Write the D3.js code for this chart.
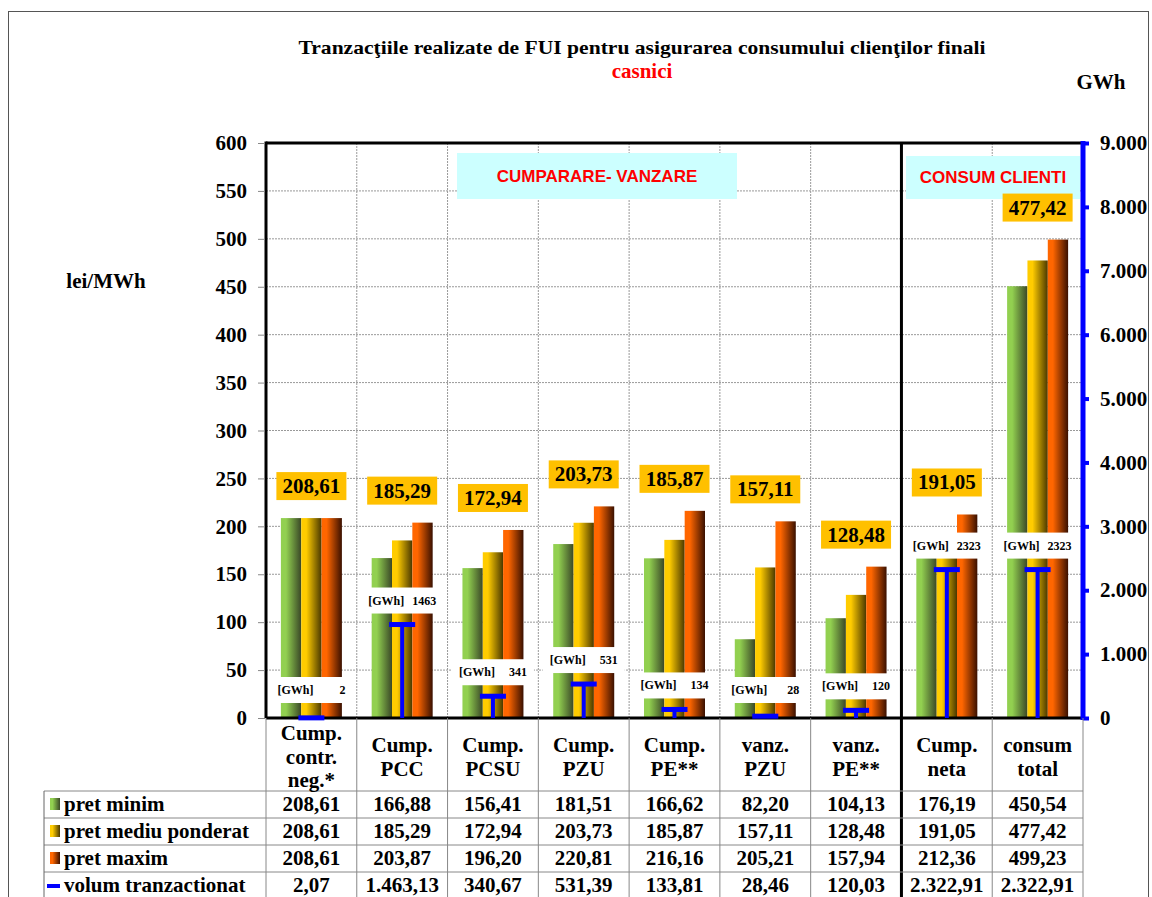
<!DOCTYPE html>
<html>
<head>
<meta charset="utf-8">
<script src="https://cdn.jsdelivr.net/npm/d3@7"></script>
<style>
  body { margin: 0; background: #fff; }
  text { font-family: "Liberation Serif", "Times New Roman", serif; font-weight: bold; }
</style>
</head>
<body>
<div id="chart"></div>
<script>
// data
const categories = [
    ["Cump.", "contr.", "neg.*"],
    ["Cump.", "PCC"],
    ["Cump.", "PCSU"],
    ["Cump.", "PZU"],
    ["Cump.", "PE**"],
    ["vanz.", "PZU"],
    ["vanz.", "PE**"],
    ["Cump.", "neta"],
    ["consum", "total"]
];
const pretMinim = [208.61, 166.88, 156.41, 181.51, 166.62, 82.20, 104.13, 176.19, 450.54];
const pretMediu = [208.61, 185.29, 172.94, 203.73, 185.87, 157.11, 128.48, 191.05, 477.42];
const pretMaxim = [208.61, 203.87, 196.20, 220.81, 216.16, 205.21, 157.94, 212.36, 499.23];
const volum = [2.07, 1463.13, 340.67, 531.39, 133.81, 28.46, 120.03, 2322.91, 2322.91];
const leftTicks = [0, 50, 100, 150, 200, 250, 300, 350, 400, 450, 500, 550, 600];
const rightTicks = [0, 1000, 2000, 3000, 4000, 5000, 6000, 7000, 8000, 9000];
const seriesNames = ["pret minim", "pret mediu ponderat", "pret maxim", "volum tranzactionat"];

function drawChart() {
    const W = 1152, H = 897;
    const plot = {left: 266, right: 1083, top: 143, bottom: 718};
    const fs = "21px";
    const serif = "'Liberation Serif', 'Times New Roman', serif";

    const ro = d3.formatLocale({decimal: ",", thousands: ".", grouping: [3], currency: ["", ""]});
    const fmt2 = ro.format(",.2f");
    const fmtK = ro.format(",.0f");
    const fmtInt = d3.format(".0f");

    const svg = d3.select("#chart")
        .append("svg")
        .attr("width", W).attr("height", H);

    const defs = svg.append("defs");
    const grads = [
        {id: "gMin", c0: "#92d050", c1: "#3a4727"},
        {id: "gMed", c0: "#ffcc00", c1: "#4a3800"},
        {id: "gMax", c0: "#ff6600", c1: "#3a1000"}
    ];
    grads.forEach(g => {
        const lg = defs.append("linearGradient").attr("id", g.id)
            .attr("x1", "0%").attr("x2", "100%").attr("y1", "0%").attr("y2", "0%");
        lg.append("stop").attr("offset", "0%").attr("stop-color", g.c0);
        lg.append("stop").attr("offset", "25%").attr("stop-color", g.c0);
        lg.append("stop").attr("offset", "100%").attr("stop-color", g.c1);
    });

    svg.append("rect").attr("width", W).attr("height", H).attr("fill", "#fff");
    // outer frame
    svg.append("rect")
        .attr("x", 8.5).attr("y", 11.5).attr("width", 1140).attr("height", 900)
        .attr("fill", "none").attr("stroke", "#555").attr("stroke-width", 1);

    const x = d3.scaleBand()
        .domain(d3.range(categories.length))
        .range([plot.left, plot.right]);
    const groupW = 61;
    const xSub = d3.scaleBand()
        .domain([0, 1, 2])
        .range([(x.bandwidth() - groupW) / 2, (x.bandwidth() + groupW) / 2]);

    const y = d3.scaleLinear().domain([0, 600]).range([plot.bottom, plot.top]);
    const y2 = d3.scaleLinear().domain([0, 9000]).range([plot.bottom, plot.top]);

    // grid
    svg.append("g")
        .selectAll("line")
        .data(leftTicks.slice(1, -1))
        .join("line")
        .attr("x1", plot.left).attr("x2", plot.right)
        .attr("y1", d => y(d)).attr("y2", d => y(d))
        .attr("stroke", "#999").attr("stroke-width", 1).attr("stroke-dasharray", "2,1");
    svg.append("g")
        .selectAll("line")
        .data(d3.range(1, categories.length))
        .join("line")
        .attr("x1", d => x(d)).attr("x2", d => x(d))
        .attr("y1", plot.top).attr("y2", plot.bottom)
        .attr("stroke", "#999").attr("stroke-width", 1).attr("stroke-dasharray", "2,1");

    // annotation boxes
    svg.append("rect").attr("x", 457).attr("y", 153).attr("width", 280).attr("height", 46).attr("fill", "#ccffff");
    svg.append("text").attr("x", 597).attr("y", 182).attr("text-anchor", "middle")
        .style("font-family", "'Liberation Sans', Arial, sans-serif").style("font-size", "17px")
        .attr("fill", "#ff0000").text("CUMPARARE- VANZARE");
    svg.append("rect").attr("x", 906).attr("y", 156).attr("width", 174).attr("height", 43).attr("fill", "#ccffff");
    svg.append("text").attr("x", 993).attr("y", 183).attr("text-anchor", "middle")
        .style("font-family", "'Liberation Sans', Arial, sans-serif").style("font-size", "17px")
        .attr("fill", "#ff0000").text("CONSUM CLIENTI");

    // bars
    const rows = categories.map((c, i) => ({i, vals: [pretMinim[i], pretMediu[i], pretMaxim[i]]}));
    const fills = ["url(#gMin)", "url(#gMed)", "url(#gMax)"];
    const grp = svg.append("g").selectAll("g")
        .data(rows)
        .join("g")
        .attr("transform", d => `translate(${x(d.i)},0)`);
    grp.selectAll("rect")
        .data(d => d.vals)
        .join("rect")
        .attr("x", (d, k) => xSub(k))
        .attr("width", xSub.bandwidth())
        .attr("y", d => y(d))
        .attr("height", d => y(0) - y(d))
        .attr("fill", (d, k) => fills[k]);

    // plot frame
    svg.append("line").attr("x1", plot.left).attr("x2", plot.right).attr("y1", plot.top).attr("y2", plot.top)
        .attr("stroke", "#000").attr("stroke-width", 3);
    svg.append("line").attr("x1", plot.left).attr("x2", plot.left).attr("y1", plot.top - 1.5).attr("y2", plot.bottom)
        .attr("stroke", "#000").attr("stroke-width", 3);
    svg.append("line").attr("x1", plot.left).attr("x2", plot.right).attr("y1", plot.bottom).attr("y2", plot.bottom)
        .attr("stroke", "#000").attr("stroke-width", 3);
    // separator between groups
    svg.append("line").attr("x1", x(7)).attr("x2", x(7)).attr("y1", plot.top).attr("y2", H)
        .attr("stroke", "#000").attr("stroke-width", 3);

    // left axis
    const ax = svg.append("g")
        .attr("transform", `translate(${plot.left - 1},0)`)
        .call(d3.axisLeft(y).tickValues(leftTicks).tickSize(7).tickPadding(11));
    ax.select(".domain").remove();
    ax.selectAll(".tick line").attr("stroke", "#888");
    ax.selectAll(".tick text").style("font-size", fs).style("font-family", serif)
        .style("font-weight", "bold").attr("fill", "#000");

    // right axis
    const ax2 = svg.append("g")
        .attr("transform", `translate(${plot.right},0)`)
        .call(d3.axisRight(y2).tickValues(rightTicks).tickSize(6).tickPadding(11).tickFormat(fmtK));
    ax2.select(".domain").remove();
    ax2.selectAll(".tick line").attr("stroke", "#0000ff").attr("stroke-width", 4);
    ax2.selectAll(".tick text").style("font-size", fs).style("font-family", serif)
        .style("font-weight", "bold").attr("fill", "#000");
    svg.append("line").attr("x1", plot.right).attr("x2", plot.right).attr("y1", plot.top - 2).attr("y2", plot.bottom + 2)
        .attr("stroke", "#0000ff").attr("stroke-width", 5);

    // volume markers
    const vol = svg.append("g").selectAll("g")
        .data(volum)
        .join("g")
        .attr("transform", (d, i) => `translate(${x(i) + x.bandwidth() / 2},0)`);
    vol.append("line")
        .attr("x1", 0).attr("x2", 0)
        .attr("y1", y2(0)).attr("y2", d => y2(d))
        .attr("stroke", "#0000ff").attr("stroke-width", 4);
    vol.append("rect")
        .attr("x", -13).attr("width", 26)
        .attr("y", d => y2(d) - 2.5).attr("height", 5)
        .attr("fill", "#0000ff");

    // volume labels
    const vlab = svg.append("g").selectAll("g")
        .data(volum)
        .join("g")
        .attr("transform", (d, i) => `translate(${x(i) + x.bandwidth() / 2},${Math.min(y2(d) - 24, 690)})`);
    vlab.append("rect").attr("x", -41).attr("y", -13).attr("width", 82).attr("height", 26).attr("fill", "#fff");
    vlab.append("text").attr("x", -34).attr("y", 4).style("font-size", "12px").text("[GWh]");
    vlab.append("text").attr("x", 34).attr("y", 4).attr("text-anchor", "end").style("font-size", "12px")
        .text(d => fmtInt(d));

    // price labels (pret mediu ponderat)
    const plab = svg.append("g").selectAll("g")
        .data(rows)
        .join("g")
        .attr("transform", d => `translate(${x(d.i) + x.bandwidth() / 2},${y(d.vals[2]) - 32})`);
    plab.append("rect").attr("x", -35).attr("y", -14).attr("width", 70).attr("height", 28).attr("fill", "#ffc000");
    plab.append("text").attr("y", 7).attr("text-anchor", "middle").style("font-size", fs)
        .text(d => fmt2(d.vals[1]));

    // titles
    svg.append("text").attr("x", 642).attr("y", 54).attr("text-anchor", "middle").style("font-size", "19px")
        .attr("textLength", 687).attr("lengthAdjust", "spacingAndGlyphs")
        .text("Tranzacţiile realizate de FUI pentru asigurarea consumului clienţilor finali");
    svg.append("text").attr("x", 642).attr("y", 78).attr("text-anchor", "middle").style("font-size", fs)
        .attr("fill", "#ff0000").text("casnici");
    svg.append("text").attr("x", 1101).attr("y", 89).attr("text-anchor", "middle").style("font-size", fs).text("GWh");
    svg.append("text").attr("x", 106).attr("y", 288).attr("text-anchor", "middle").style("font-size", fs).text("lei/MWh");

    // data table
    const rowY = [791, 818, 845, 872, 899];
    const tab = svg.append("g");
    rowY.forEach(ry => {
        tab.append("line").attr("x1", 44).attr("x2", plot.right).attr("y1", ry).attr("y2", ry)
            .attr("stroke", "#888").attr("stroke-width", 1);
    });
    tab.append("line").attr("x1", 44).attr("x2", 44).attr("y1", 791).attr("y2", H).attr("stroke", "#666");
    d3.range(0, categories.length + 1).forEach(i => {
        if (i === 7) return;
        const xx = i === categories.length ? plot.right : x(i);
        tab.append("line").attr("x1", xx).attr("x2", xx).attr("y1", plot.bottom).attr("y2", H)
            .attr("stroke", "#888").attr("stroke-width", 1);
    });

    // category header
    categories.forEach((c, i) => {
        const cx = x(i) + x.bandwidth() / 2;
        const y0 = c.length === 3 ? 740 : 752;
        const t = tab.append("text").attr("text-anchor", "middle").style("font-size", fs);
        c.forEach((ln, k) => {
            t.append("tspan").attr("x", cx).attr("y", y0 + k * 23.5).text(ln);
        });
    });

    // rows
    const tableSeries = [pretMinim, pretMediu, pretMaxim, volum];
    tableSeries.forEach((arr, r) => {
        const cy = rowY[r] + 20;
        arr.forEach((v, i) => {
            tab.append("text").attr("x", x(i) + x.bandwidth() / 2).attr("y", cy)
                .attr("text-anchor", "middle").style("font-size", fs).text(fmt2(v));
        });
        tab.append("text").attr("x", 64).attr("y", cy).style("font-size", fs).text(seriesNames[r]);
        if (r < 3) {
            tab.append("rect").attr("x", 50).attr("y", cy - 13).attr("width", 10).attr("height", 12)
                .attr("fill", fills[r]);
        } else {
            tab.append("rect").attr("x", 47).attr("y", cy - 8).attr("width", 13).attr("height", 4)
                .attr("fill", "#0000ff");
        }
    });
}
drawChart();
</script>
</body>
</html>
